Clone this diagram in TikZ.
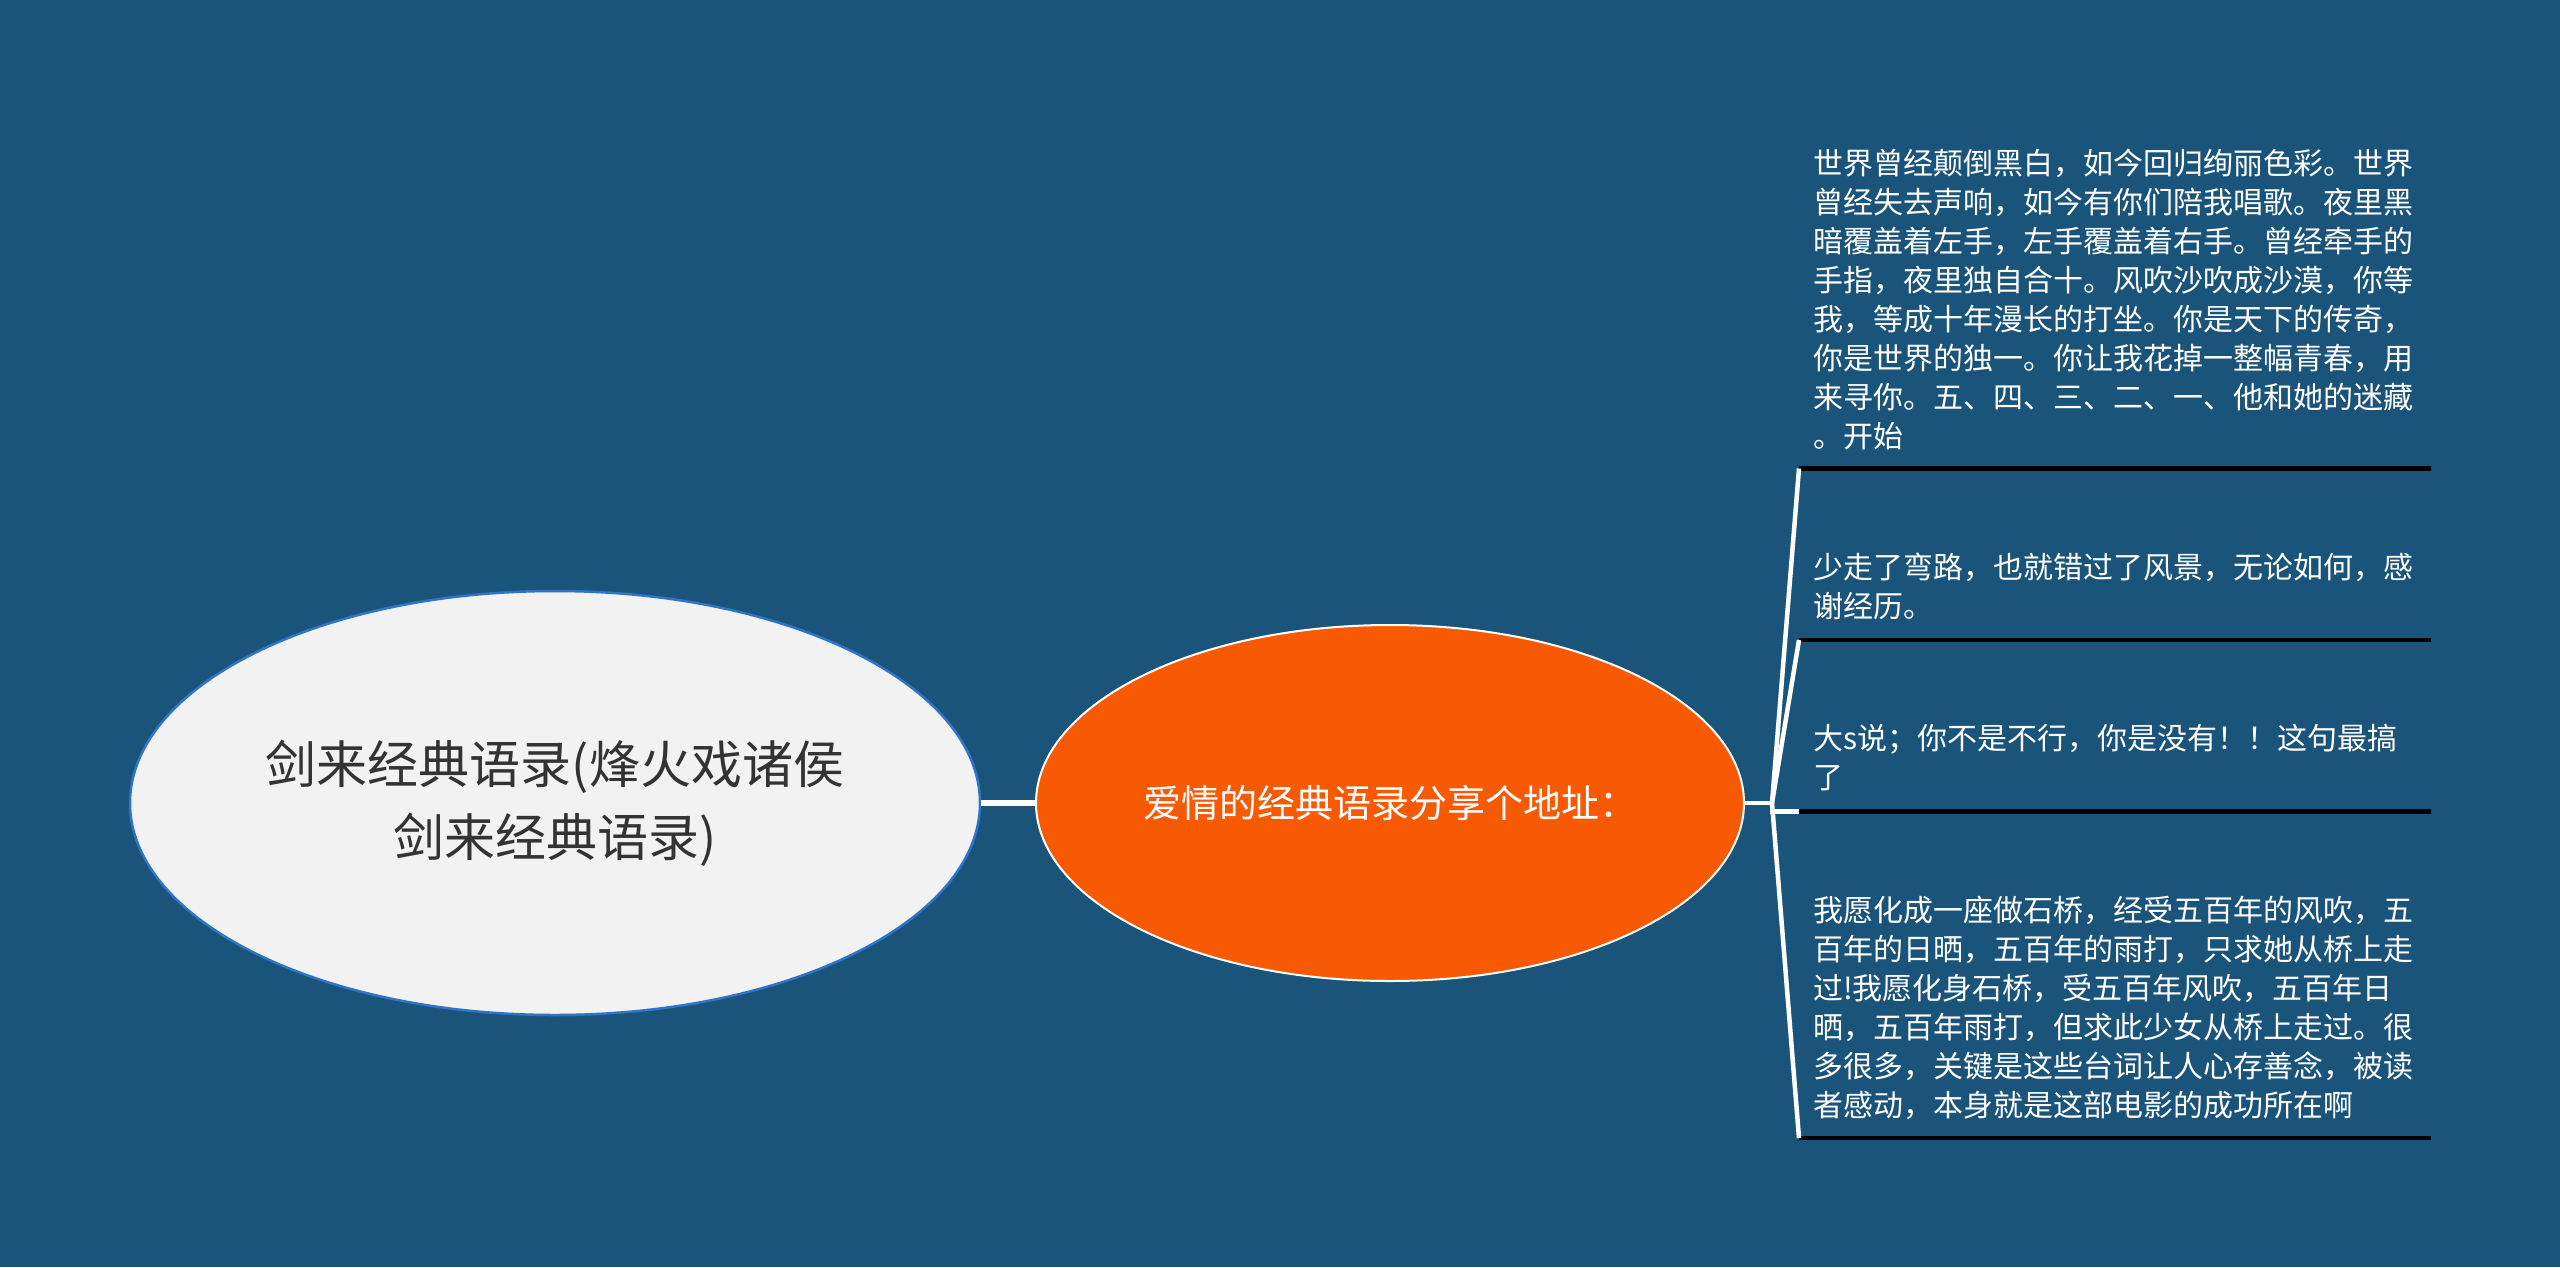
\documentclass[tikz,border=0pt]{standalone}
\usepackage{fontspec}
\usetikzlibrary{shapes.geometric}
\newfontfamily\cjk{Noto Sans CJK SC}
\definecolor{bgblue}{RGB}{26,84,122}
\definecolor{rootfill}{RGB}{242,242,242}
\definecolor{rootline}{RGB}{46,117,200}
\definecolor{orangefill}{RGB}{248,90,4}
\definecolor{roottext}{RGB}{51,51,51}
\tikzset{
  rootnode/.style={ellipse, draw=rootline, line width=2.5pt, fill=rootfill,
    minimum width=850pt, minimum height=424pt, inner sep=0pt,
    text=roottext, align=center, font={\cjk\fontsize{51}{73}\selectfont}},
  mainnode/.style={ellipse, draw=white, line width=2pt, fill=orangefill,
    minimum width=708pt, minimum height=356pt, inner sep=0pt,
    text=white, align=center, font={\cjk\fontsize{38}{46}\selectfont}},
  leaftext/.style={anchor=base west, inner sep=0pt, text=white, align=left,
    font={\cjk\fontsize{30}{39}\selectfont}},
  link/.style={draw=white, line width=4.5pt},
  rootlink/.style={draw=white, line width=6pt},
  underline/.style={draw=black, line width=4.5pt}
}
\begin{document}
\begin{tikzpicture}[x=1pt,y=1pt]
\fill[bgblue] (0,0) rectangle (2560,-1267);
\useasboundingbox (0,0) rectangle (2560,-1267);

\node[rootnode] (root) at (555,-803) {剑来经典语录(烽火戏诸侯\\剑来经典语录)};
\node[mainnode] (main) at (1390,-803) {爱情的经典语录分享个地址：};

\coordinate (j) at (1772,-803);
\coordinate (u1) at (1799,-468.5);
\coordinate (e1) at (2431,-468.5);
\coordinate (u2) at (1799,-640);
\coordinate (e2) at (2431,-640);
\coordinate (u3) at (1799,-811.5);
\coordinate (e3) at (2431,-811.5);
\coordinate (u4) at (1799,-1138);
\coordinate (e4) at (2431,-1138);

% base anchor of a multi-line node sits on the last line's baseline
\node[leaftext] (l1) at (1813,-447) {世界曾经颠倒黑白，如今回归绚丽色彩。世界\\曾经失去声响，如今有你们陪我唱歌。夜里黑\\暗覆盖着左手，左手覆盖着右手。曾经牵手的\\手指，夜里独自合十。风吹沙吹成沙漠，你等\\我，等成十年漫长的打坐。你是天下的传奇，\\你是世界的独一。你让我花掉一整幅青春，用\\来寻你。五、四、三、二、一、他和她的迷藏\\。开始};
\node[leaftext] (l2) at (1813,-617) {少走了弯路，也就错过了风景，无论如何，感\\谢经历。};
\node[leaftext] (l3) at (1813,-788) {大s说；你不是不行，你是没有！！这句最搞\\了};
\node[leaftext] (l4) at (1813,-1116) {我愿化成一座做石桥，经受五百年的风吹，五\\百年的日晒，五百年的雨打，只求她从桥上走\\过!我愿化身石桥，受五百年风吹，五百年日\\晒，五百年雨打，但求此少女从桥上走过。很\\多很多，关键是这些台词让人心存善念，被读\\者感动，本身就是这部电影的成功所在啊};

\draw[underline] (u1) -- (e1);
\draw[underline] (u2) -- (e2);
\draw[underline] (u3) -- (e3);
\draw[underline] (u4) -- (e4);

\draw[rootlink] (root.east) -- (main.west);
\draw[link] (main.east) -- (j);
\draw[link] (j) -- (u1);
\draw[link] (j) -- (u2);
\draw[link] (j) |- (u3);
\draw[link] (j) -- (u4);
\end{tikzpicture}
\end{document}
